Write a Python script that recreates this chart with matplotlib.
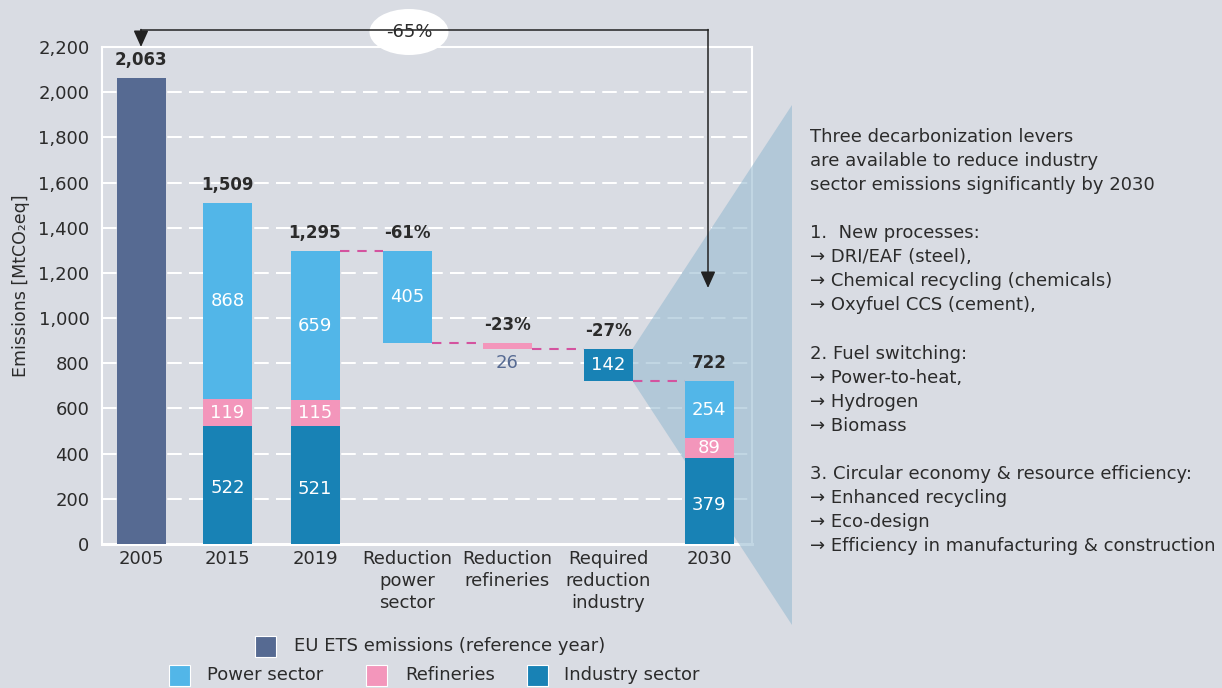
import matplotlib
matplotlib.use('Agg')
import matplotlib.pyplot as plt
from matplotlib.patches import Polygon, Rectangle, Ellipse

# ---- data ----
categories = ['2005', '2015', '2019', 'Reduction\npower\nsector',
              'Reduction\nrefineries', 'Required\nreduction\nindustry', '2030']
ref_value = 2063                      # EU ETS 2005
stack_years = ['2015', '2019', '2030']
industry = [522, 521, 379]
refineries = [119, 115, 89]
power = [868, 659, 254]
totals = [1509, 1295, 722]
reductions = [405, 26, 142]           # power, refineries, industry
reduction_pct = ['-61%', '-23%', '-27%']
total_change = '-65%'

y_ticks = list(range(0, 2201, 200))

side_lines = [
    'Three decarbonization levers',
    'are available to reduce industry',
    'sector emissions significantly by 2030',
    '',
    '1.  New processes:',
    '\u2192 DRI/EAF (steel),',
    '\u2192 Chemical recycling (chemicals)',
    '\u2192 Oxyfuel CCS (cement),',
    '',
    '2. Fuel switching:',
    '\u2192 Power-to-heat,',
    '\u2192 Hydrogen',
    '\u2192 Biomass',
    '',
    '3. Circular economy & resource efficiency:',
    '\u2192 Enhanced recycling',
    '\u2192 Eco-design',
    '\u2192 Efficiency in manufacturing & construction',
]

# ---- style ----
BG = '#d9dce3'
C_REF = '#566a92'
C_POWER = '#52b6e8'
C_REF_IND = '#f396bb'
C_IND = '#1882b5'
C_LINK = '#d4539f'
C_TXT = '#2b2b2b'
C_TRI = '#98bbd1'

plt.rcParams['font.family'] = ['DejaVu Sans']

W, H = 1222, 688
fig = plt.figure(figsize=(W / 100, H / 100), dpi=100, facecolor=BG)

# x positions in pixel units (layout only)
xpos = [141, 227.5, 315, 407, 507.5, 608, 709]
bw = 49

ax = fig.add_axes([102 / W, (H - 544) / H, 650 / W, 497 / H])
ax.set_facecolor('none')
ax.set_xlim(102, 752)
ax.set_ylim(0, 2200)
ax.set_yticks(y_ticks)
ax.set_yticklabels([f'{v:,}' for v in y_ticks], fontsize=13, color=C_TXT)
ax.set_xticks(xpos)
ax.set_xticklabels(categories, fontsize=13, color=C_TXT, linespacing=1.3)
ax.tick_params(length=0)
ax.tick_params(axis='y', pad=9)
ax.tick_params(axis='x', pad=4)
ax.set_ylabel('Emissions [MtCO\u2082eq]', fontsize=12.5, color=C_TXT)
ax.yaxis.set_label_coords(-0.11, 0.52)
for s in ax.spines.values():
    s.set_color('white')
    s.set_linewidth(1.5)
    s.set_zorder(0.9)
ax.spines['bottom'].set_linewidth(2.2)
ax.set_axisbelow(True)
ax.yaxis.grid(True, color='white', linewidth=1.45, linestyle=(0, (7.2, 3.6)))

# zoom triangle from the required-reduction bar
inv = ax.transData.inverted()
def px(x, y):
    return inv.transform((x, H - y))

ind_bottom = totals[1] - sum(reductions)
ind_top = ind_bottom + reductions[2]
x_apex = xpos[5] + bw / 2
tri = Polygon([(x_apex, ind_top), tuple(px(792, 105)), tuple(px(792, 625)),
               (x_apex, ind_bottom)],
              closed=True, facecolor=C_TRI, edgecolor='none', alpha=0.6,
              zorder=1, clip_on=False)
ax.add_patch(tri)

# 2005 reference bar
ax.bar(xpos[0], ref_value, bw, color=C_REF, zorder=2)
ax.text(xpos[0], ref_value + 40, f'{ref_value:,}', ha='center', va='bottom',
        fontsize=12, fontweight='bold', color=C_TXT, zorder=3)

# stacked bars
for i, x in zip([0, 1, 2], [xpos[1], xpos[2], xpos[6]]):
    b1 = industry[i]
    b2 = b1 + refineries[i]
    ax.bar(x, industry[i], bw, color=C_IND, zorder=2)
    ax.bar(x, refineries[i], bw, bottom=b1, color=C_REF_IND, zorder=2)
    ax.bar(x, power[i], bw, bottom=b2, color=C_POWER, zorder=2)
    ax.text(x, b1 / 2 - 15, str(industry[i]), ha='center', va='center',
            fontsize=13, color='white', zorder=3)
    ax.text(x, b1 + refineries[i] / 2, str(refineries[i]), ha='center',
            va='center', fontsize=13, color='white', zorder=3)
    ax.text(x, b2 + power[i] / 2, str(power[i]), ha='center', va='center',
            fontsize=13, color='white', zorder=3)
    ax.text(x, totals[i] + 40, f'{totals[i]:,}', ha='center', va='bottom',
            fontsize=12, fontweight='bold', color=C_TXT, zorder=3)

# waterfall reductions
red_colors = [C_POWER, C_REF_IND, C_IND]
level = totals[1]
prev_right = xpos[2] + bw / 2
for k in range(3):
    x = xpos[3 + k]
    bottom = level - reductions[k]
    ax.plot([prev_right, x - bw / 2], [level, level], color=C_LINK, lw=1.5,
            linestyle=(0, (4.5, 3.8)), zorder=2)
    ax.bar(x, reductions[k], bw, bottom=bottom, color=red_colors[k], zorder=2)
    if reductions[k] > 60:
        ax.text(x, bottom + reductions[k] / 2, str(reductions[k]), ha='center',
                va='center', fontsize=13, color='white', zorder=3)
    else:
        ax.text(x, bottom - 25, str(reductions[k]), ha='center',
                va='top', fontsize=13, color=C_REF, zorder=3)
    ax.text(x, level + 40, reduction_pct[k], ha='center', va='bottom',
            fontsize=12, fontweight='bold', color=C_TXT, zorder=3)
    level = bottom
    prev_right = x + bw / 2
ax.plot([prev_right, xpos[6] - bw / 2], [level, level], color=C_LINK, lw=1.5,
        linestyle=(0, (4.5, 3.8)), zorder=2)

# ---- overlay in pixel coordinates ----
ov = fig.add_axes([0, 0, 1, 1], zorder=5)
ov.set_xlim(0, W)
ov.set_ylim(H, 0)
ov.axis('off')
ov.patch.set_alpha(0)

arrow_style = dict(arrowstyle='-|>,head_length=1.0,head_width=0.45',
                   color='#222222', lw=1.1, shrinkA=0, shrinkB=0)
ov.plot([xpos[0], 708], [30, 30], color='#222222', lw=1.1)
ov.annotate('', xy=(xpos[0], 47), xytext=(xpos[0], 29.5), arrowprops=arrow_style)
ov.annotate('', xy=(708, 288), xytext=(708, 29.5), arrowprops=arrow_style)
ov.add_patch(Ellipse((409, 32), 79, 46, facecolor='white', edgecolor='none'))
ov.text(409, 32, total_change, ha='center', va='center', fontsize=13,
        color=C_TXT)

for i, line in enumerate(side_lines):
    ov.text(810, 137 + i * 24.06, line, ha='left', va='center', fontsize=13,
            color=C_TXT)

# legend
legend_items = [
    (255, 646, C_REF, 294, 'EU ETS emissions (reference year)'),
    (169, 675, C_POWER, 207, 'Power sector'),
    (366, 675, C_REF_IND, 405, 'Refineries'),
    (527, 675, C_IND, 564, 'Industry sector'),
]
for sx, sy, col, tx, lab in legend_items:
    ov.add_patch(Rectangle((sx, sy - 10.5), 21, 21, facecolor=col,
                           edgecolor='white', lw=0.8))
    ov.text(tx, sy, lab, ha='left', va='center', fontsize=13, color=C_TXT)

fig.savefig('out.png', dpi=100, facecolor=BG)
